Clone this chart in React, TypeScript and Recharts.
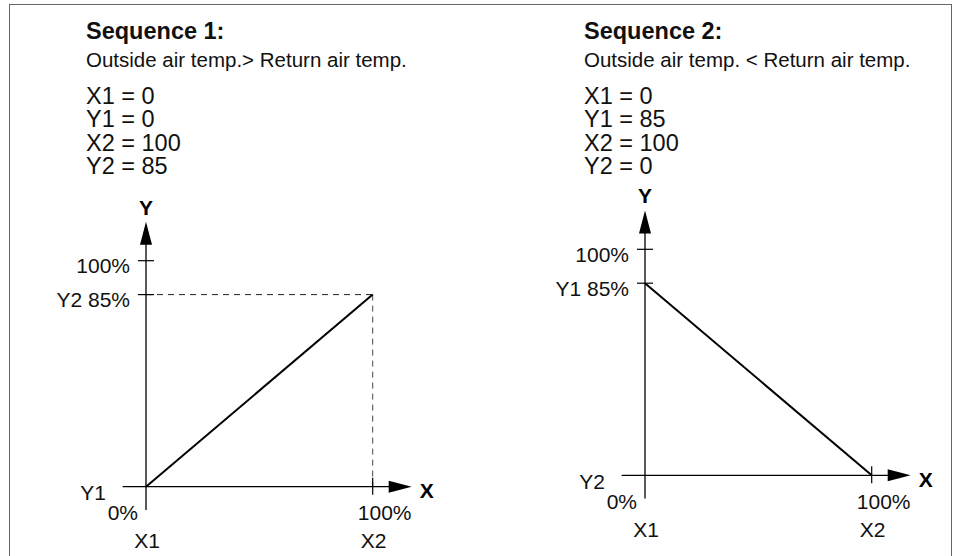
import { Line, LineChart, ReferenceLine, XAxis, YAxis } from 'recharts'

const FONT = '"Liberation Sans", Arial, Helvetica, sans-serif'

// damper position (x, %) and output (y, %) at the two set points
const xPercent = [0, 100]
const seq1Output = [0, 85]
const seq2Output = [85, 0]

const xTickValues = [0, 100]
const yTickValues = [0, 85, 100]
const xTickLabels = ['0%', '100%']
const xPointNames = ['X1', 'X2']
const seq1YLabels = ['Y1', 'Y2 85%', '100%']
const seq2YLabels = ['Y2', 'Y1 85%', '100%']

const seq1Title = 'Sequence 1:'
const seq2Title = 'Sequence 2:'
const seq1Condition = 'Outside air temp.> Return air temp.'
const seq2Condition = 'Outside air temp. < Return air temp.'
const seq1Params = ['X1 = 0', 'Y1 = 0', 'X2 = 100', 'Y2 = 85']
const seq2Params = ['X1 = 0', 'Y1 = 85', 'X2 = 100', 'Y2 = 0']

// axis line runs a little past the origin and past 100%
const axisStart = -10.3
const axisEnd = 117.2

function AxisArrow(props: any) {
  const { x1, y1, x2, y2, name, horizontal } = props
  const len = 23
  const half = 6
  if (horizontal) {
    return (
      <g>
        <line x1={x1} y1={y1} x2={x2 - len + 2} y2={y2} stroke="#000" strokeWidth={1.3} />
        <polygon points={`${x2},${y2} ${x2 - len},${y2 - half} ${x2 - len},${y2 + half}`} fill="#000" />
        <text x={x2 + 15} y={y2 + 4} textAnchor="middle" dominantBaseline="central" fontFamily={FONT} fontWeight="bold" fontSize={21} fill="#000">
          {name}
        </text>
      </g>
    )
  }
  return (
    <g>
      <line x1={x1} y1={y1} x2={x2} y2={y2 + len - 2} stroke="#000" strokeWidth={1.3} />
      <polygon points={`${x2},${y2} ${x2 - half},${y2 + len} ${x2 + half},${y2 + len}`} fill="#000" />
      <text x={x2} y={y2 - 7} textAnchor="middle" fontFamily={FONT} fontWeight="bold" fontSize={21} fill="#000">
        {name}
      </text>
    </g>
  )
}

function XTick(props: any) {
  const { x, y, index } = props
  const isEnd = index > 0
  return (
    <g fontFamily={FONT} fontSize={21} fill="#111">
      {isEnd && <line x1={x} y1={y - 9} x2={x} y2={y + 8} stroke="#000" strokeWidth={1.2} />}
      <text x={isEnd ? x + 12 : x - 8} y={y + 26} textAnchor={isEnd ? 'middle' : 'end'} dominantBaseline="central">
        {xTickLabels[index]}
      </text>
      <text x={x + 1} y={y + 54} textAnchor="middle" dominantBaseline="central">
        {xPointNames[index]}
      </text>
    </g>
  )
}

function YTick(props: any) {
  const { x, y, index, labels } = props
  if (index === 0) {
    return (
      <text x={x - 40} y={y + 6} textAnchor="end" dominantBaseline="central" fontFamily={FONT} fontSize={21} fill="#111">
        {labels[0]}
      </text>
    )
  }
  return (
    <g>
      <line x1={x - 8} y1={y} x2={x + 8} y2={y} stroke="#000" strokeWidth={1.2} />
      <text x={x - 16} y={y + 5} textAnchor="end" dominantBaseline="central" fontFamily={FONT} fontSize={21} fill="#111">
        {labels[index]}
      </text>
    </g>
  )
}

interface ChartProps {
  left: number
  top: number
  width: number
  height: number
  margin: { top: number; right: number; bottom: number; left: number }
  values: number[]
  yLabels: string[]
  guides: boolean
}

function SequenceChart({ left, top, width, height, margin, values, yLabels, guides }: ChartProps) {
  const data = xPercent.map((x, i) => ({ x, y: values[i] }))
  const yTop = values[values.length - 1]
  return (
    <div style={{ position: 'absolute', left, top, width, height }}>
      <LineChart width={width} height={height} data={data} margin={margin} style={{ overflow: 'visible' }}>
        <XAxis
          type="number"
          dataKey="x"
          domain={[0, 100]}
          ticks={xTickValues}
          interval={0}
          axisLine={false}
          tickLine={false}
          tickSize={0}
          tickMargin={0}
          height={30}
          tick={(p: any) => <XTick {...p} />}
        />
        <YAxis
          type="number"
          domain={[0, 100]}
          ticks={yTickValues}
          interval={0}
          axisLine={false}
          tickLine={false}
          tickSize={0}
          tickMargin={0}
          width={60}
          tick={(p: any) => <YTick {...p} labels={yLabels} />}
        />
        {guides && (
          <ReferenceLine
            segment={[{ x: 0, y: yTop }, { x: 100, y: yTop }]}
            stroke="#222"
            strokeWidth={1}
            strokeDasharray="6 5"
            ifOverflow="visible"
          />
        )}
        {guides && (
          <ReferenceLine
            segment={[{ x: 100, y: yTop }, { x: 100, y: 0 }]}
            stroke="#444"
            strokeWidth={1}
            strokeDasharray="6 5"
            ifOverflow="visible"
          />
        )}
        <ReferenceLine
          segment={[{ x: axisStart, y: 0 }, { x: axisEnd, y: 0 }]}
          ifOverflow="visible"
          shape={(p: any) => <AxisArrow {...p} name="X" horizontal />}
        />
        <ReferenceLine
          segment={[{ x: 0, y: axisStart }, { x: 0, y: axisEnd }]}
          ifOverflow="visible"
          shape={(p: any) => <AxisArrow {...p} name="Y" />}
        />
        <Line type="linear" dataKey="y" stroke="#000" strokeWidth={2} dot={false} activeDot={false} isAnimationActive={false} />
      </LineChart>
    </div>
  )
}

function Header({ x, title, condition, params }: { x: number; title: string; condition: string; params: string[] }) {
  return (
    <g fontFamily={FONT} fill="#111">
      <text x={x} y={39} fontSize={23.5} fontWeight="bold">
        {title}
      </text>
      <text x={x} y={67} fontSize={20.5}>
        {condition}
      </text>
      {params.map((p, i) => (
        <text key={p} x={x} y={104 + i * 23.4} fontSize={23.5}>
          {p}
        </text>
      ))}
    </g>
  )
}

export default function App() {
  return (
    <div style={{ position: 'fixed', left: 0, top: 0, width: 956, height: 556, background: '#fff', overflow: 'hidden' }}>
      <div
        style={{
          position: 'absolute',
          left: 9,
          top: 4,
          width: 941,
          height: 570,
          border: '1.5px solid #666',
          borderBottom: 'none',
        }}
      />
      <svg width={956} height={200} style={{ position: 'absolute', left: 0, top: 0 }}>
        <Header x={86} title={seq1Title} condition={seq1Condition} params={seq1Params} />
        <Header x={584} title={seq2Title} condition={seq2Condition} params={seq2Params} />
      </svg>
      <SequenceChart
        left={20}
        top={190}
        width={440}
        height={366}
        margin={{ top: 70.7, right: 87.3, bottom: 39.3, left: 66 }}
        values={seq1Output}
        yLabels={seq1YLabels}
        guides
      />
      <SequenceChart
        left={500}
        top={170}
        width={450}
        height={386}
        margin={{ top: 79.3, right: 78.3, bottom: 50.7, left: 85 }}
        values={seq2Output}
        yLabels={seq2YLabels}
        guides={false}
      />
    </div>
  )
}
